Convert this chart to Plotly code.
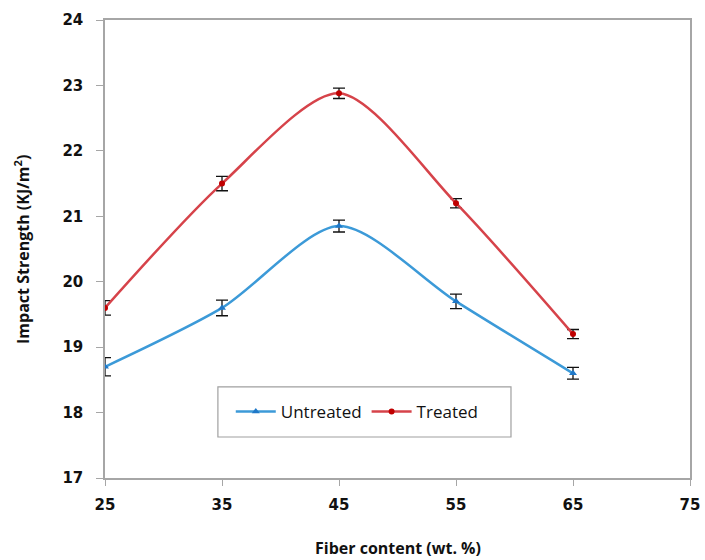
import plotly.graph_objects as go

fiber = [25, 35, 45, 55, 65]
untreated = [18.7, 19.6, 20.85, 19.7, 18.6]
untreated_err = [0.14, 0.12, 0.09, 0.11, 0.09]
treated = [19.6, 21.5, 22.88, 21.2, 19.2]
treated_err = [0.11, 0.11, 0.08, 0.07, 0.07]
x_ticks = [25, 35, 45, 55, 65, 75]
y_ticks = [17, 18, 19, 20, 21, 22, 23, 24]

blue = "#3C9AD8"
red = "#D6434A"

fig = go.Figure()
fig.add_trace(go.Scatter(
    x=fiber, y=untreated, name="Untreated", mode="lines+markers",
    line=dict(color=blue, width=2.5, shape="spline", smoothing=0.8),
    marker=dict(symbol="triangle-up", size=7, color="#1F78C8"),
    error_y=dict(type="data", array=untreated_err, color="#111111", thickness=1.3, width=6),
))
fig.add_trace(go.Scatter(
    x=fiber, y=treated, name="Treated", mode="lines+markers",
    line=dict(color=red, width=2.5, shape="spline", smoothing=0.8),
    marker=dict(symbol="circle", size=6, color="#C00000"),
    error_y=dict(type="data", array=treated_err, color="#111111", thickness=1.3, width=6),
))

tickfont = dict(family="DejaVu Sans", size=15, color="#111111")
titlefont = dict(family="Open Sans", size=16, color="#111111")
fig.update_layout(
    width=705, height=560,
    margin=dict(l=105, r=15, t=20, b=82, autoexpand=False),
    plot_bgcolor="white", paper_bgcolor="white",
    showlegend=True,
    legend=dict(
        orientation="h", x=0.215, y=0.144, xanchor="left", yanchor="middle",
        borderwidth=0, bgcolor="rgba(0,0,0,0)",
        font=dict(family="Open Sans", size=17, color="#111111"),
        itemwidth=40, tracegroupgap=0,
    ),
    shapes=[dict(type="rect", xref="paper", yref="paper", x0=0.193, x1=0.694, y0=0.0895, y1=0.199,
                 line=dict(color="#A0A0A0", width=1.2), fillcolor="white", layer="below")],
    annotations=[
        dict(text="<b>Impact Strength (KJ/m<sup>2</sup>)</b>", xref="paper", yref="paper",
             x=-0.142, y=0.5, textangle=-90, showarrow=False, font=titlefont,
             xanchor="center", yanchor="middle"),
        dict(text="<b>Fiber content (wt. %)</b>", xref="paper", yref="paper",
             x=0.5, y=-0.153, showarrow=False, font=titlefont,
             xanchor="center", yanchor="middle"),
    ],
    xaxis=dict(
        range=[25, 75], tickvals=x_ticks, ticktext=[f"<b>{v}</b>" for v in x_ticks],
        showgrid=False, zeroline=False, showline=True, linecolor="#A6A6A6", linewidth=1.5,
        mirror=True, ticks="outside", ticklen=6, tickcolor="#A6A6A6",
        tickfont=tickfont, automargin=False, ticklabeloverflow="allow",
        ticklabelstandoff=6,
    ),
    yaxis=dict(
        range=[17, 24], tickvals=y_ticks, ticktext=[f"<b>{v}</b>" for v in y_ticks],
        showgrid=False, zeroline=False, showline=True, linecolor="#A6A6A6", linewidth=1.5,
        mirror=True, ticks="outside", ticklen=7, tickcolor="#A6A6A6",
        tickfont=tickfont, automargin=False, ticklabeloverflow="allow",
        ticklabelstandoff=10,
    ),
)

fig.write_html("out.html", config={"displayModeBar": False},
               post_script="document.body.style.margin='0';document.body.style.overflow='hidden';")
